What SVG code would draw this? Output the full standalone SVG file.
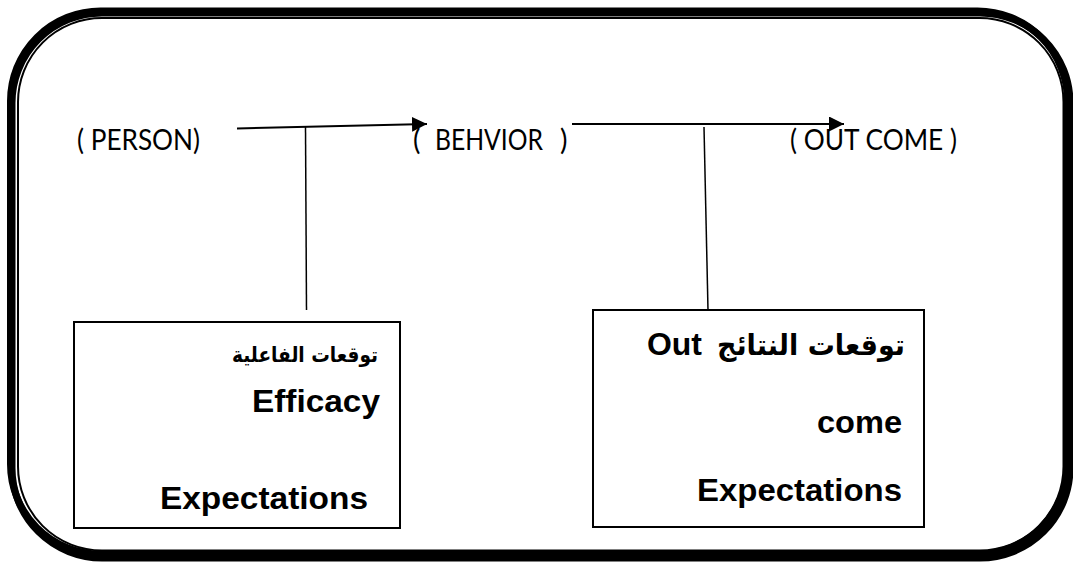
<svg xmlns="http://www.w3.org/2000/svg" width="1073" height="563" viewBox="0 0 1073 563">
<style>
.lbl{font-family:Lato,"Open Sans",sans-serif;font-size:28px;fill:#000}
.en{font-family:"Liberation Sans",Arial,sans-serif;font-weight:bold;font-size:31px;fill:#000}
.ar{font-family:"DejaVu Sans",sans-serif;font-weight:bold;fill:#000}
.box{fill:#fff;stroke:#000;stroke-width:2}
.conn{fill:none;stroke:#000;stroke-width:2}
.vline{fill:none;stroke:#000;stroke-width:1.5}
</style>
<defs>
<marker id="ah" markerUnits="userSpaceOnUse" markerWidth="16" markerHeight="16" refX="15" refY="7.5" orient="auto">
<path d="M0,0 L15,7.5 L0,15 Z" fill="#000"/>
</marker>
</defs>
<rect width="1073" height="563" fill="#fff"/>
<g id="frame">
<rect x="12" y="13" width="1058" height="545" rx="90" fill="none" stroke="#000" stroke-width="7"/>
<rect x="10.5" y="11" width="1057" height="543" rx="90" fill="none" stroke="#000" stroke-width="7"/>
<rect x="18" y="18" width="1045.5" height="532.5" rx="84" fill="none" stroke="#000" stroke-width="2"/>
</g>
<g id="connectors">
<line class="conn" x1="237" y1="128.5" x2="427" y2="124" marker-end="url(#ah)"/>
<line class="conn" x1="572" y1="124" x2="844" y2="124" marker-end="url(#ah)"/>
<line class="vline" x1="305.5" y1="127" x2="306.5" y2="310"/>
<line class="vline" x1="704" y1="127" x2="708" y2="310"/>
</g>
<g id="person">
<text class="lbl" x="77" y="150" textLength="123" lengthAdjust="spacingAndGlyphs">( PERSON)</text>
</g>
<g id="behavior">
<text class="lbl" y="150"><tspan x="413">(</tspan><tspan x="435" textLength="108" lengthAdjust="spacingAndGlyphs">BEHVIOR</tspan><tspan x="560">)</tspan></text>
</g>
<g id="outcome">
<text class="lbl" x="790" y="150" textLength="167" lengthAdjust="spacingAndGlyphs">( OUT COME )</text>
</g>
<g id="efficacy-box">
<rect class="box" x="74" y="322" width="326" height="206"/>
<text class="ar" font-size="21" x="232" y="362" textLength="146" lengthAdjust="spacingAndGlyphs">توقعات الفاعلية</text>
<text class="en" x="252" y="412" textLength="128" lengthAdjust="spacingAndGlyphs">Efficacy</text>
<text class="en" x="160" y="509" textLength="208" lengthAdjust="spacingAndGlyphs">Expectations</text>
</g>
<g id="outcome-box">
<rect class="box" x="593" y="310" width="331" height="217"/>
<text class="en" x="647" y="355" textLength="55" lengthAdjust="spacingAndGlyphs">Out</text>
<text class="ar" font-size="29" x="717" y="355" textLength="188" lengthAdjust="spacingAndGlyphs">توقعات النتائج</text>
<text class="en" x="817" y="433" textLength="85" lengthAdjust="spacingAndGlyphs">come</text>
<text class="en" x="697" y="501" textLength="205" lengthAdjust="spacingAndGlyphs">Expectations</text>
</g>
</svg>
